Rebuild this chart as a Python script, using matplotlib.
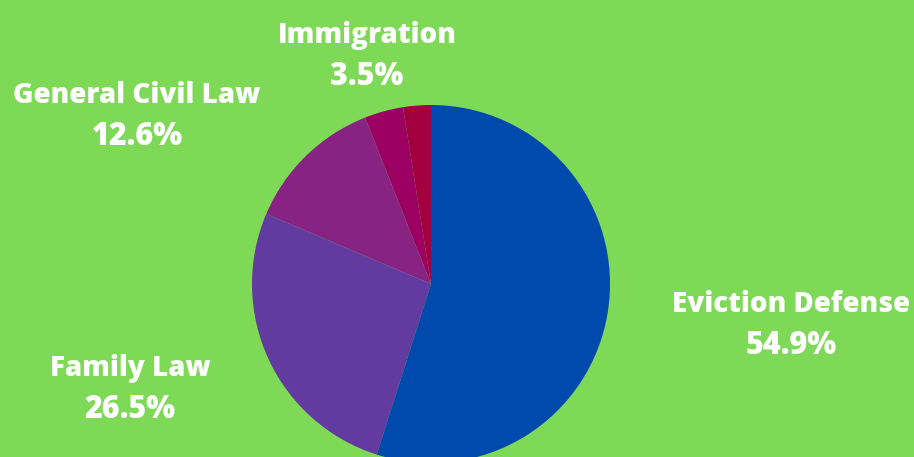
import matplotlib.pyplot as plt

# datos del pie (orden antihorario desde arriba)
labels = ['', 'Immigration', 'General Civil Law', 'Family Law', 'Eviction Defense']
values = [2.5, 3.5, 12.6, 26.5, 54.9]
colors = ['#A3003F', '#9B0062', '#892383', '#633A9F', '#004AAD']

# posicion de las etiquetas en pixeles (x centro, y centro del nombre)
label_pos = [None, (367, 32), (137, 92), (130, 365), (791, 301)]
gap = 41  # distancia entre nombre y porcentaje, px

W, H = 914, 457
bg = '#7ED957'

fig = plt.figure(figsize=(W / 100, H / 100), dpi=100, facecolor=bg)
cx, cy, r = 431, 284, 179  # centro y radio del pie en pixeles
ax = fig.add_axes([(cx - r) / W, (H - cy - r) / H, 2 * r / W, 2 * r / H])
ax.set_facecolor(bg)
ax.pie(values, colors=colors, startangle=90, counterclock=True,
       radius=1, wedgeprops=dict(linewidth=0))
ax.set_xlim(-1, 1)
ax.set_ylim(-1, 1)
ax.set_aspect('equal')
ax.axis('off')

for lab, v, pos in zip(labels, values, label_pos):
    if not lab:
        continue
    x, y = pos
    fig.text(x / W, 1 - y / H, lab, ha='center', va='center_baseline',
             color='white', fontsize=20, family='Open Sans', fontweight='heavy')
    fig.text(x / W, 1 - (y + gap) / H, '%.1f%%' % v, ha='center',
             va='center_baseline', color='white', fontsize=22,
             family='Open Sans', fontweight='heavy')

fig.savefig('out.png', dpi=100, facecolor=bg)
